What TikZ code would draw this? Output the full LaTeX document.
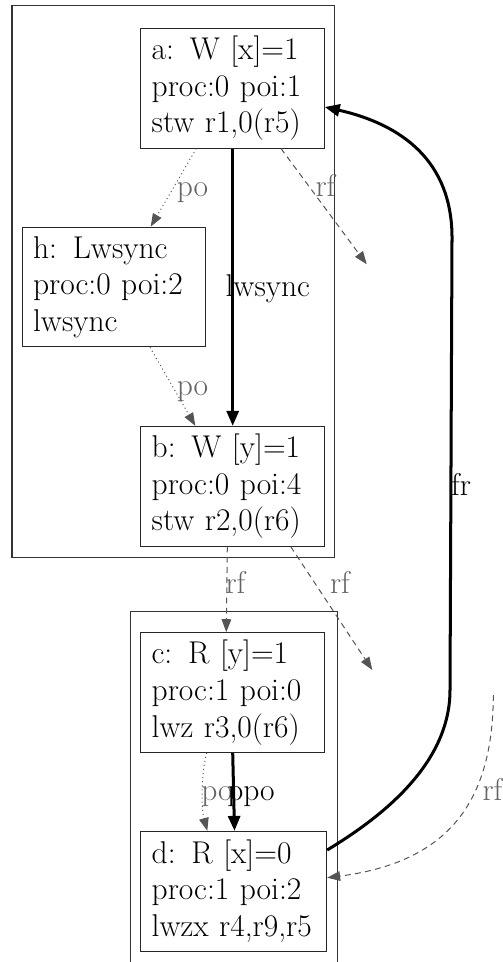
\documentclass[tikz,border=0pt]{standalone}
\usetikzlibrary{arrows.meta}
\definecolor{eg}{RGB}{85,85,85}
\definecolor{lg}{RGB}{100,100,100}
\begin{document}
\begin{tikzpicture}[x=0.5486pt,y=-0.5486pt,
  evt/.style={draw=black!85,line width=0.55pt,rectangle,align=left,text width=88.65pt,inner xsep=6.03pt,inner ysep=0pt,minimum height=65.67pt,font=\fontsize{17.28}{20.13}\selectfont},
  lbl/.style={anchor=base,inner sep=0pt,font=\fontsize{17.28}{20.13}\selectfont},
  glbl/.style={lbl,text=lg},
  clu/.style={draw=black!80,line width=0.55pt},
  po/.style={draw=eg,line width=0.55pt,dash pattern=on 0.55pt off 1.7pt,-{Triangle[length=7.1pt,width=5.3pt]}},
  rf/.style={draw=eg,line width=0.55pt,dash pattern=on 3.2pt off 2.4pt,-{Triangle[length=7.1pt,width=5.3pt]}},
  strong/.style={draw=black,line width=1.65pt,-{Triangle[length=8.2pt,width=6.6pt]}},
]
\useasboundingbox (0,0) rectangle (503,962);
% clusters
\draw[clu] (12,6) rectangle (334.3,557.7);
\draw[clu] (130.3,962) -- (130.3,611) -- (337,611) -- (337,962);
% events
\node[evt] (a) at (232.5,88.2) {a: W [x]=1\\proc:0 poi:1\\stw r1,0(r5)};
\node[evt] (h) at (113.9,287) {h: Lwsync\\proc:0 poi:2\\lwsync};
\node[evt] (b) at (232.5,486.2) {b: W [y]=1\\proc:0 poi:4\\stw r2,0(r6)};
\node[evt] (c) at (232.5,692.5) {c: R [y]=1\\proc:1 poi:0\\lwz r3,0(r6)};
\node[evt,text width=89.97pt] (d) at (233.7,891.2) {d: R [x]=0\\proc:1 poi:2\\lwzx r4,r9,r5};
% helper coordinates
\coordinate (p1) at (196.3,0);
\coordinate (p2) at (150.7,0);
\coordinate (xl) at (232.7,0);
\coordinate (p3) at (281,0);
\coordinate (rfA) at (366.7,264.3);
\coordinate (p4) at (150,0);
\coordinate (p5) at (195.3,0);
\coordinate (p6) at (227.3,0);
\coordinate (p7) at (226.3,0);
\coordinate (p8) at (290.7,0);
\coordinate (rfB) at (372.3,670);
\coordinate (p9) at (206.7,0);
\coordinate (p10) at (207.3,0);
\coordinate (p11) at (234.5,0);
\coordinate (frS) at (0,850);
\coordinate (frE) at (0,107);
\coordinate (rfC) at (493.3,695);
\coordinate (rfE) at (0,877.7);
% edges
\draw[po] (a.south -| p1) -- (h.north -| p2);
\draw[strong] (a.south -| xl) -- (b.north -| xl);
\draw[rf] (a.south -| p3) -- (rfA);
\draw[po] (h.south -| p4) -- (b.north -| p5);
\draw[rf] (b.south -| p6) -- (c.north -| p7);
\draw[rf] (b.south -| p8) -- (rfB);
\draw[po] (c.south -| p9) .. controls (201,775) and (201,808) .. (d.north -| p10);
\draw[strong] (c.south -| xl) -- (d.north -| p11);
\draw[strong] (d.east |- frS) .. controls (380,818) and (450,765) .. (450,690) -- (452,240) .. controls (453,160) and (400,124) .. (a.east |- frE);
\draw[rf] (rfC) .. controls (493,800) and (450,862) .. (d.east |- rfE);
% labels
\node[glbl] (l1) at (192.5,196.7) {po};
\node[glbl] (l2) at (325.5,196.7) {rf};
\node[lbl] (l3) at (267.8,296) {lwsync};
\node[glbl] (l4) at (192.5,395) {po};
\node[glbl] (l5) at (235.5,593.3) {rf};
\node[glbl] (l6) at (340,593.3) {rf};
\node[lbl] (l7) at (461,495.7) {fr};
\node[glbl] (l8) at (217,800) {po};
\node[lbl] (l9) at (251,800) {ppo};
\node[glbl] (l10) at (492.5,800) {rf};
\end{tikzpicture}
\end{document}
